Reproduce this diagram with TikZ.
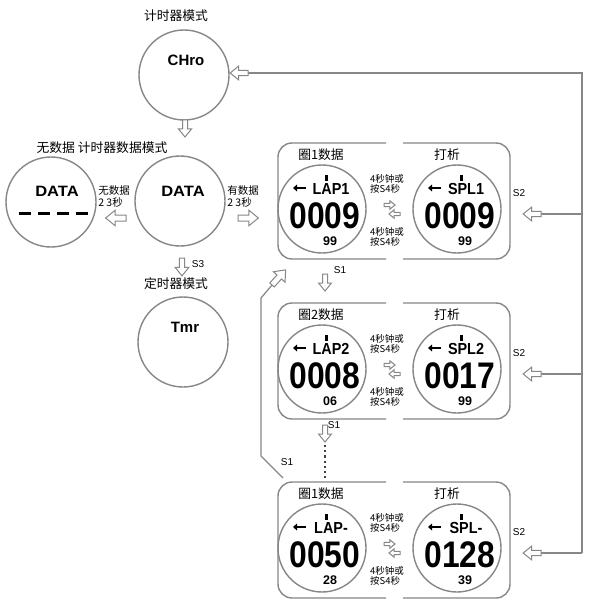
\documentclass[tikz,border=0pt]{standalone}
\usepackage{fontspec}
\usepackage{graphicx}
\setmainfont{Liberation Sans}
\newfontfamily\cjk{Noto Sans CJK SC}
\definecolor{ringgray}{RGB}{135,135,135}
\tikzset{
  ring/.style={circle, draw=ringgray, line width=1.4pt, minimum size=88pt, inner sep=0pt},
  bigring/.style={circle, draw=ringgray, line width=1.4pt, minimum size=90pt, inner sep=0pt},
  lbl/.style={font=\cjk\fontsize{12.8}{14}\selectfont, inner sep=0pt},
  note/.style={font=\cjk\fontsize{9.5}{10}\selectfont, align=left, inner sep=0pt},
  keytxt/.style={font=\fontsize{10}{11}\selectfont, inner sep=0pt},
  lcdbig/.style={font=\bfseries\fontsize{37}{37}\selectfont, inner sep=0pt},
  lcdsmall/.style={font=\bfseries\fontsize{16}{16}\selectfont, inner sep=0pt},
  lcdtiny/.style={font=\bfseries\fontsize{12.5}{12.5}\selectfont, inner sep=0pt},
  modetxt/.style={font=\bfseries\fontsize{15}{15}\selectfont, inner sep=0pt},
  conn/.style={draw=ringgray, line width=1.2pt},
  panelline/.style={draw=ringgray, line width=1.4pt, rounded corners=14pt},
  harrow/.pic={\draw[draw=ringgray, fill=white, line width=1pt, line join=miter]
     (0,-2.5) -- (9,-2.5) -- (9,-6.5) -- (17,0) -- (9,6.5) -- (9,2.5) -- (0,2.5) -- cycle;}
}
\newcommand\lcdscreen[6]{%
  \begin{scope}[shift={(#2,#3)}]
    \node[ring] (#1) at (0,0) {};
    \fill[black] (3,-34) rectangle (6,-28);
    \draw[black, line width=2.2pt] (-26,-21) -- (-16,-21);
    \fill[black] (-29,-21) -- (-25,-24.5) -- (-25,-17.5) -- cycle;
    \node[lcdsmall] (#1l) at (9,-20) {\scalebox{0.9}[1]{#4}};
    \node[lcdbig] (#1d) at (3,7) {\scalebox{0.86}[1]{#5}};
    \node[lcdtiny] (#1s) at (8,32) {#6};
  \end{scope}}
\newcommand\panelgroup[9]{%
  % #1 prefix, #2 top, #3 title, #4 lap, #5 lapdigits, #6 lapsmall, #7 spl, #8 spldigits, #9 splsmall
  \draw[panelline] (386,#2) -- (278,#2) -- (278,#2+116) -- (386,#2+116);
  \draw[panelline] (403,#2) -- (510,#2) -- (510,#2+116) -- (403,#2+116);
  \node[lbl] (#1t) at (321,#2+12) {#3};
  \node[lbl] (#1u) at (447,#2+12) {打析};
  \lcdscreen{#1a}{322}{#2+66}{#4}{#5}{#6}
  \lcdscreen{#1b}{457}{#2+66}{#7}{#8}{#9}
  \node[note] (#1n) at (387,#2+41) {4秒钟或\\按S4秒};
  \node[note] (#1m) at (387,#2+94) {4秒钟或\\按S4秒};
  \pic[scale=0.65] at (384,#2+62) {harrow};
  \pic[scale=0.65, rotate=180] at (400,#2+71) {harrow};
  \node[keytxt] (#1k) at (519,#2+50) {S2};
  \coordinate (#1r) at (582,#2+71);
  \coordinate (#1e) at (541,#2+71);
  \draw[conn] (#1r) -- (#1e);
  \pic[rotate=180, scale=1.05] at (#1e) {harrow};
}
\begin{document}
\begin{tikzpicture}[x=1pt, y=-1pt]
\fill[white] (0,0) rectangle (589,604);
\useasboundingbox (0,0) rectangle (589,604);

% chrono mode
\node[lbl] (chlbl) at (176,16) {计时器模式};
\node[bigring] (chro) at (184,75) {};
\node[modetxt] (chtxt) at (186,60) {CHro};
\pic[rotate=-90] at (185,120) {harrow};

% data modes
\node[lbl] (datalbl) at (102,148) {无数据 计时器数据模式};
\node[bigring] (nodata) at (51,202) {};
\node[modetxt] (ndtxt) at (57,191) {\scalebox{1.1}[1]{DATA}};
\foreach \i in {0,1,2,3} {
  \draw[black, line width=3pt] (19+\i*19,213) -- (31+\i*19,213);
}
\node[bigring] (data) at (180,201) {};
\node[modetxt] (dtxt) at (183,191) {\scalebox{1.1}[1]{DATA}};
\node[note, font=\cjk\fontsize{10.5}{12}\selectfont] (ndnote) at (114,196) {无数据\\2 3秒};
\pic[rotate=180, scale=1.2] at (126,218) {harrow};
\node[note, font=\cjk\fontsize{10.5}{12}\selectfont] (hdnote) at (243,196) {有数据\\2 3秒};
\pic[scale=1.2] at (238,218) {harrow};

% timer mode
\pic[rotate=-90, scale=1.05] at (182,258) {harrow};
\node[keytxt] (s3) at (198,264) {S3};
\node[lbl] (tmlbl) at (176,284) {定时器模式};
\node[bigring] (tmr) at (183,342) {};
\node[modetxt] (tmtxt) at (185,327) {Tmr};

% panels
\panelgroup{pa}{143}{圈1数据}{LAP1}{0009}{99}{SPL1}{0009}{99}
\panelgroup{pb}{303}{圈2数据}{LAP2}{0008}{06}{SPL2}{0017}{99}
\panelgroup{pc}{482}{圈1数据}{LAP-}{0050}{28}{SPL-}{0128}{39}

% S1 steps
\node[keytxt] (s1a) at (340,270) {S1};
\pic[rotate=-90] at (325,274) {harrow};
\node[keytxt] (s1b) at (334,425) {S1};
\pic[rotate=-90] at (325,425) {harrow};
\coordinate (dtop) at (325,445);
\coordinate (dbot) at (325,481);
\draw[black!75, line width=2.2pt, dash pattern=on 2.2pt off 3pt] (dtop) -- (dbot);

% return loop from last lap to first lap
\coordinate (lb) at (283,478);
\coordinate (lm1) at (261,456);
\coordinate (lm2) at (261,298);
\coordinate (lt) at (272,285);
\draw[conn] (lb) -- (lm1) -- (lm2) -- (lt);
\pic[rotate=48, scale=1.2] at (lt) {harrow};
\node[keytxt] (s1c) at (287,462) {S1};

% S2 return to chrono
\coordinate (rtop) at (582,73);
\coordinate (chin) at (248,73);
\draw[conn] (pcr) -- (rtop) -- (chin);
\pic[rotate=180, scale=1.05] at (chin) {harrow};
\end{tikzpicture}
\end{document}
